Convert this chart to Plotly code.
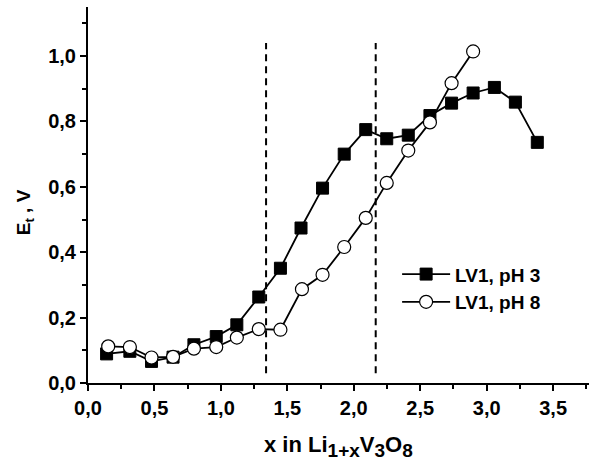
import plotly.graph_objects as go

x_ph3 = [0.14, 0.315, 0.478, 0.64, 0.797, 0.965, 1.12, 1.285, 1.448, 1.603, 1.765, 1.928,
         2.09, 2.248, 2.41, 2.573, 2.736, 2.898, 3.058, 3.216, 3.381]
y_ph3 = [0.089, 0.097, 0.066, 0.079, 0.117, 0.142, 0.178, 0.263, 0.351, 0.474, 0.596, 0.700,
         0.775, 0.747, 0.758, 0.818, 0.856, 0.887, 0.904, 0.859, 0.736]

x_ph8 = [0.152, 0.315, 0.478, 0.64, 0.797, 0.965, 1.12, 1.285, 1.448, 1.61, 1.765, 1.928,
         2.09, 2.248, 2.41, 2.573, 2.736, 2.898]
y_ph8 = [0.112, 0.110, 0.078, 0.080, 0.105, 0.110, 0.139, 0.165, 0.163, 0.287, 0.331, 0.416,
         0.505, 0.612, 0.711, 0.797, 0.917, 1.014]

boundaries = [1.34, 2.165]
boundary_span = [0.03, 1.04]

names = ["LV1, pH 3", "LV1, pH 8"]

x_ticks = [0.0, 0.5, 1.0, 1.5, 2.0, 2.5, 3.0, 3.5]
y_ticks = [0.0, 0.2, 0.4, 0.6, 0.8, 1.0]
x_ticklabels = ["<b>" + f"{v:.1f}".replace(".", ",") + "</b>" for v in x_ticks]
y_ticklabels = ["<b>" + f"{v:.1f}".replace(".", ",") + "</b>" for v in y_ticks]

FONT = "Liberation Sans, Arial, sans-serif"

fig = go.Figure()
fig.add_trace(go.Scatter(
    x=x_ph3, y=y_ph3, mode="lines+markers", name="<b>" + names[0] + "</b>",
    line=dict(color="black", width=1.8),
    marker=dict(symbol="square", size=12, color="black", line=dict(color="black", width=1)),
))
fig.add_trace(go.Scatter(
    x=x_ph8, y=y_ph8, mode="lines+markers", name="<b>" + names[1] + "</b>",
    line=dict(color="black", width=1.8),
    marker=dict(symbol="circle", size=13, color="white", line=dict(color="black", width=1.2)),
))
for b in boundaries:
    fig.add_trace(go.Scatter(
        x=[b, b], y=boundary_span, mode="lines", showlegend=False,
        line=dict(color="black", width=2, dash="7px,5px"), hoverinfo="skip",
    ))

axis_common = dict(
    showline=True, linecolor="black", linewidth=2, showgrid=False, zeroline=False,
    ticks="outside", ticklen=6, tickwidth=1.5, tickcolor="black",
    tickfont=dict(family=FONT, size=20, color="black"),
    mirror=False,
)

fig.update_layout(
    width=595, height=463,
    margin=dict(l=88, r=6, t=7, b=80),
    plot_bgcolor="white", paper_bgcolor="white",
    font=dict(family=FONT, color="black"),
    xaxis=dict(range=[0, 3.77], tickmode="array", tickvals=x_ticks, ticktext=x_ticklabels,
               minor=dict(dtick=0.25, tick0=0, ticks="outside", ticklen=4, tickwidth=1.5, tickcolor="black"),
               **axis_common),
    yaxis=dict(range=[0, 1.15], tickmode="array", tickvals=y_ticks, ticktext=y_ticklabels,
               minor=dict(dtick=0.1, tick0=0, ticks="outside", ticklen=4, tickwidth=1.5, tickcolor="black"),
               **axis_common),
    legend=dict(x=0.617, y=0.252, xanchor="left", yanchor="middle",
                bgcolor="rgba(0,0,0,0)", itemwidth=48, tracegroupgap=0,
                font=dict(family=FONT, size=19, color="black")),
    showlegend=True,
)

fig.add_annotation(
    text="<b>x in Li<sub><span style='font-size:19px'>1+x</span></sub>V<sub><span style='font-size:19px'>3</span></sub>O<sub><span style='font-size:19px'>8</span></sub></b>",
    xref="paper", yref="paper", x=0.5, y=-0.168, yanchor="middle",
    showarrow=False, font=dict(family=FONT, size=22, color="black"))
fig.add_annotation(text="<b>E<sub>t</sub> , V</b>", textangle=-90,
                   xref="paper", yref="paper", x=-0.125, y=0.455, xanchor="center", yanchor="middle",
                   showarrow=False, font=dict(family=FONT, size=19, color="black"))

fig.write_html("out.html")
